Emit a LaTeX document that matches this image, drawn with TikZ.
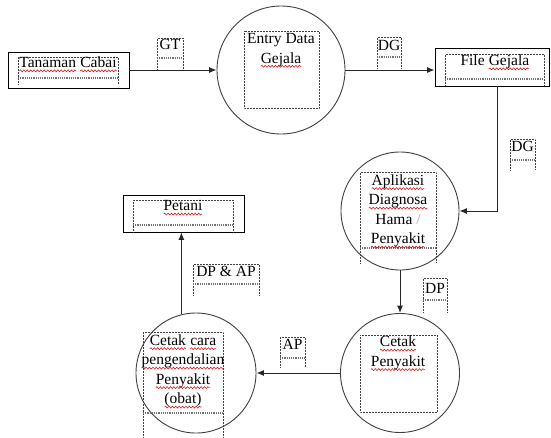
\documentclass[tikz,border=0pt]{standalone}
\usepackage{fontspec}
\setmainfont{Liberation Serif}
\usepackage{tikz}
\usetikzlibrary{arrows.meta,decorations.pathmorphing}
% wavy red underline under a word
\newcommand{\sq}[1]{\tikz[baseline=0pt,x=1pt,y=1pt]{%
    \node[anchor=base west,inner sep=0pt,outer sep=0pt] (w) at (0,0) {#1};
    \draw[red!85!black,line width=0.5pt,decorate,
      decoration={snake,amplitude=1pt,segment length=3.4pt}]
      ([yshift=-3.2pt]w.base west) -- ([yshift=-3.2pt]w.base east);}}

\begin{document}
\begin{tikzpicture}[x=1pt,y=-1pt,
    font=\fontsize{15.5}{19.5}\selectfont,
    proses/.style={circle,draw=black!75,line width=0.9pt,inner sep=0pt},
    simpan/.style={rectangle,draw=black,line width=0.9pt,inner sep=0pt},
    teks/.style={align=center,inner sep=0pt},
    garis/.style={densely dotted,line width=0.5pt,black!75},
    pemisah/.style={densely dotted,line width=1.2pt,black!55},
    alur/.style={line width=1pt,black!85,-{Latex[length=7.5pt,width=6pt]}}]
  \useasboundingbox (0,0) rectangle (551,437);

  % Tanaman Cabai
  \node[simpan,minimum width=121pt,minimum height=36pt] (tanaman) at (68.5,70) {};
  \draw[garis] (18,84) |- (118,57) -- (118,84);
  \draw[pemisah] (18,78) -- (118,78);
  \node[teks] (tanamantxt) at (68,64.5) {\sq{Tanaman} \sq{Cabai}};

  % Entry Data Gejala
  \node[proses,minimum size=128pt] (entry) at (281,70) {};
  \draw[garis] (244,31) rectangle (319,108);
  \node[teks] (entrytxt) at (281,50.5) {Entry Data\\\sq{Gejala}};

  % File Gejala
  \node[simpan,minimum width=114pt,minimum height=38pt] (file) at (492,67) {};
  \draw[garis] (445,85) |- (544,54) -- (544,85);
  \draw[pemisah] (445,79) -- (544,79);
  \node[teks] (filetxt) at (495,62.5) {File \sq{Gejala}};

  % Aplikasi Diagnosa Hama / Penyakit
  \node[proses,minimum size=118pt] (aplikasi) at (400,211) {};
  \draw[garis] (360,263) |- (436,172) -- (436,263);
  \draw[pemisah] (360,248) -- (436,248);
  \node[teks] (aplikasitxt) at (398,211.5) {\sq{Aplikasi}\\\sq{Diagnosa}\\Hama {\color{black!35}/}\\\sq{Penyakit}};

  % Cetak Penyakit
  \node[proses,minimum size=119pt] (cetakp) at (400,373) {};
  \draw[garis] (360,335) rectangle (437,412);
  \node[teks] (cetakptxt) at (398,353.5) {\sq{Cetak}\\\sq{Penyakit}};

  % Cetak cara pengendalian Penyakit (obat)
  \node[proses,minimum size=120pt] (cetakc) at (196,373) {};
  \draw[garis] (143,440) |- (223,332) -- (223,440);
  \draw[pemisah] (143,413) -- (223,413);
  \node[teks] (cetakctxt) at (183,371.5) {\sq{Cetak} \sq{cara}\\\sq{pengendalian}\\\sq{Penyakit}\\\sq{(obat)}};

  % Petani
  \node[simpan,minimum width=121pt,minimum height=37pt] (petani) at (183.5,213.5) {};
  \draw[garis] (133,232) |- (233,200) -- (233,232);
  \draw[pemisah] (133,225) -- (233,225);
  \node[teks] (petanitxt) at (183,208) {\sq{Petani}};

  % arus data
  \draw[alur] (tanaman) -- (entry);
  \draw[alur] (entry.east) -- (entry.east -| file.west);
  \draw[alur] ([xshift=5pt]file.south) |- (aplikasi.east);
  \draw[alur] (aplikasi) -- (cetakp);
  \draw[alur] (cetakp) -- (cetakc);
  \draw[alur] (cetakc.104) -- (cetakc.104 |- petani.south);

  % GT
  \draw[garis] (157,69) |- (183,38) -- (183,69);
  \draw[pemisah] (157,58) -- (183,58);
  \node[teks] (gt) at (170,44.5) {GT};
  % DG
  \draw[garis] (377,68) |- (401,37) -- (401,68);
  \draw[pemisah] (377,57) -- (401,57);
  \node[teks] (dg) at (389,45.5) {DG};
  % DG
  \draw[garis] (510,170) |- (535,139) -- (535,170);
  \draw[pemisah] (510,160) -- (535,160);
  \node[teks] (dgdua) at (522.5,146.5) {DG};
  % DP
  \draw[garis] (423,312) |- (447,278) -- (447,312);
  \draw[pemisah] (423,300) -- (447,300);
  \node[teks] (dp) at (435,288) {DP};
  % AP
  \draw[garis] (280,367) |- (305,337) -- (305,367);
  \draw[pemisah] (280,358) -- (305,358);
  \node[teks] (ap) at (292.5,344) {AP};
  % DP & AP
  \draw[garis] (193,295) |- (259,264) -- (259,295);
  \draw[pemisah] (193,284) -- (259,284);
  \node[teks] (dpap) at (226,271) {DP \& AP};
\end{tikzpicture}
\end{document}
